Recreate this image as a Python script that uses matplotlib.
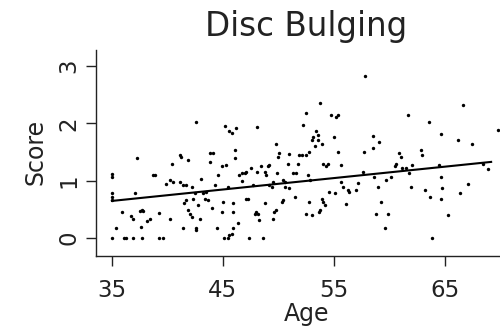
import numpy as np
import matplotlib
matplotlib.use('Agg')
import matplotlib.pyplot as plt

plt.rcParams['font.family'] = ['DejaVu Sans']

# points (age, score)
age = [
    35.0, 35.0, 35.0, 35.0, 35.0, 35.0, 35.4, 35.9, 36.1, 36.3,
    36.7, 36.9, 36.9, 37.1, 37.3, 37.5, 37.7, 37.8, 37.6, 37.7,
    38.2, 38.4, 38.7, 38.9, 39.2, 39.2, 39.6, 40.2, 40.4, 39.9,
    40.2, 40.5, 41.1, 41.2, 41.4, 41.1, 41.4, 41.5, 41.7, 41.9,
    41.7, 41.9, 42.0, 42.2, 42.2, 42.3, 42.5, 42.6, 42.6, 42.6,
    42.8, 42.9, 43.0, 43.2, 43.4, 43.5, 43.7, 43.8, 43.8, 44.1,
    44.0, 44.3, 44.5, 44.6, 44.9, 45.0, 44.9, 45.1, 45.5, 45.2,
    45.3, 45.5, 45.6, 45.8, 45.6, 45.8, 45.9, 45.9, 45.9, 46.1,
    46.1, 46.2, 46.4, 46.5, 46.7, 46.7, 47.0, 47.1, 47.1, 47.3,
    47.4, 47.5, 47.7, 47.9, 48.0, 48.2, 48.1, 48.1, 48.3, 48.4,
    48.6, 48.8, 48.9, 48.8, 49.1, 49.2, 49.2, 49.4, 49.5, 49.5,
    49.6, 49.8, 49.8, 49.9, 50.0, 50.1, 50.3, 50.4, 50.4, 50.6,
    50.6, 50.9, 51.0, 51.0, 51.3, 51.5, 51.6, 51.8, 51.9, 52.1,
    52.2, 52.5, 52.5, 52.5, 52.7, 52.8, 52.8, 52.9, 53.0, 53.0,
    53.1, 53.3, 53.4, 53.6, 53.6, 53.7, 53.8, 53.8, 53.9, 54.0,
    53.9, 54.0, 54.2, 54.3, 54.5, 54.6, 54.8, 55.0, 55.1, 55.2,
    55.4, 55.4, 55.7, 55.7, 55.8, 56.1, 56.3, 56.4, 57.0, 57.2,
    57.6, 57.7, 57.8, 58.5, 58.5, 58.6, 58.8, 59.0, 59.1, 59.3,
    59.6, 59.7, 59.9, 60.2, 60.5, 60.6, 60.9, 61.1, 61.2, 61.5,
    61.7, 61.8, 62.0, 62.1, 62.9, 63.0, 63.2, 63.6, 63.7, 63.9,
    64.5, 64.7, 64.7, 64.7, 64.8, 65.3, 66.2, 66.4, 66.7, 67.1,
    67.5, 68.5, 68.9, 69.8,
]
score = [
    0.00, 1.07, 1.12, 0.78, 0.72, 0.66, 0.18, 0.45, 0.00, 0.00,
    0.38, 0.34, 0.00, 0.78, 1.40, 0.48, 0.50, 0.47, 0.20, 0.00,
    0.30, 0.34, 1.10, 1.10, 0.44, 0.00, 0.00, 0.33, 1.29, 0.94,
    1.01, 0.98, 1.45, 1.41, 0.17, 0.98, 0.93, 0.61, 0.66, 1.36,
    0.93, 0.49, 0.43, 0.37, 0.89, 0.69, 0.78, 2.02, 0.17, 0.14,
    0.58, 0.34, 1.04, 0.78, 0.69, 0.81, 0.66, 1.49, 1.33, 1.48,
    0.52, 0.93, 0.18, 1.10, 1.25, 0.63, 0.46, 0.00, 0.00, 1.96,
    1.28, 0.90, 1.86, 1.84, 0.05, 0.08, 0.46, 0.61, 0.17, 1.54,
    1.39, 1.92, 0.26, 1.10, 1.13, 1.00, 1.13, 1.16, 0.69, 0.69,
    0.00, 1.22, 0.93, 0.43, 0.46, 0.43, 1.93, 1.16, 0.31, 1.25,
    0.00, 1.16, 1.10, 0.61, 1.25, 1.28, 0.93, 0.90, 0.98, 0.34,
    0.46, 0.49, 1.65, 1.13, 1.42, 1.48, 0.63, 0.66, 1.01, 0.98,
    0.90, 1.30, 1.47, 0.87, 1.13, 0.72, 1.13, 1.30, 1.45, 1.45,
    1.97, 0.43, 2.19, 1.45, 1.10, 1.51, 0.63, 1.01, 0.40, 1.72,
    1.77, 1.60, 1.86, 1.80, 1.71, 0.46, 0.49, 2.35, 1.65, 1.30,
    0.69, 0.63, 0.58, 1.25, 1.30, 0.81, 2.15, 1.77, 0.78, 2.12,
    2.15, 1.51, 1.28, 0.98, 0.90, 0.59, 0.84, 0.81, 0.84, 0.96,
    1.16, 1.51, 2.83, 1.78, 1.57, 1.07, 0.43, 0.90, 1.68, 0.63,
    0.17, 1.01, 0.43, 1.07, 1.25, 1.30, 1.49, 1.42, 1.22, 1.22,
    2.15, 1.13, 0.90, 1.28, 1.54, 1.45, 0.84, 2.02, 0.72, 0.00,
    1.28, 1.81, 1.07, 0.69, 0.87, 0.40, 1.71, 0.79, 2.32, 0.94,
    1.64, 1.30, 1.21, 1.89,
]

# fitted line end points
fit_age = [35.0, 69.2]
fit_score = [0.65, 1.33]

x_ticks = [35, 45, 55, 65]
y_ticks = [0, 1, 2, 3]

fig = plt.figure(figsize=(5.0, 3.28), dpi=100)
ax = fig.add_axes([0.192, 0.2195, 0.808, 0.628])

ax.scatter(age, score, s=6, color='black', linewidths=0)
ax.plot(fit_age, fit_score, color='black', linewidth=1.5)

ax.set_xlim(33.56, 70.0)
ax.set_ylim(-0.31, 3.28)
ax.set_xticks(x_ticks)
ax.set_yticks(y_ticks)
ax.set_xticklabels([str(t) for t in x_ticks], fontsize=16.5)
ax.set_yticklabels([str(t) for t in y_ticks], fontsize=16.5,
                   rotation=90, va='center')

for side in ['top', 'right']:
    ax.spines[side].set_visible(False)
for side in ['left', 'bottom']:
    ax.spines[side].set_linewidth(1.0)
    ax.spines[side].set_color('#222222')

ax.tick_params(axis='both', length=7.2, width=1.0, color='#222222',
               labelcolor='#222222')
ax.tick_params(axis='x', pad=9)
ax.tick_params(axis='y', pad=4)

ax.set_xlabel('Age', fontsize=17, color='#222222')
ax.set_ylabel('Score', fontsize=17, color='#222222')
ax.xaxis.set_label_coords(0.52, -0.223)
ax.yaxis.set_label_coords(-0.12, 0.506)

fig.text(0.612, 1 - 36 / 328, 'Disc Bulging', fontsize=23.5,
         ha='center', va='baseline', color='#222222')

fig.savefig('out.png', dpi=100)
plt.close(fig)
